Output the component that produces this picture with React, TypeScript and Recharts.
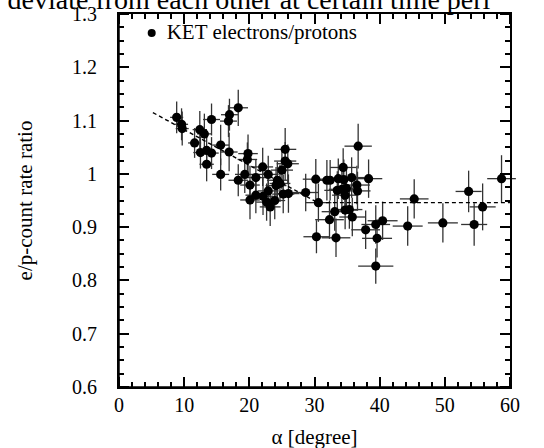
import React from 'react';
import { ScatterChart, Scatter, XAxis, YAxis, ErrorBar, Legend } from 'recharts';

const FONT = "'Liberation Serif', 'DejaVu Serif', serif";

const alpha = [
  8.85, 9.6, 9.7, 11.6, 12.4, 13.1, 12.5, 13.45, 14.2, 13.45,
  14.2, 15.6, 15.6, 16.9, 16.95, 16.8, 18.3, 18.3, 19.3, 19.8,
  19.7, 20.1, 20.1, 21.0, 21.0, 22.05, 22.1, 22.9, 22.9, 22.65,
  23.2, 23.9, 24.3, 24.7, 24.1, 25.0, 25.5, 25.5, 25.9, 25.2,
  26.0, 28.65, 30.6, 30.2, 31.9, 32.4, 33.65, 34.4, 34.5, 35.7,
  36.7, 38.3, 33.5, 34.2, 34.9, 36.5, 36.6, 34.7, 33.1, 32.3,
  34.7, 35.35, 35.8, 37.85, 39.4, 40.45, 39.6, 39.4, 30.3, 33.3,
  45.3, 44.3, 49.7, 53.65, 54.5, 55.8, 58.7,
];
const ratio = [
  1.106, 1.093, 1.085, 1.058, 1.083, 1.075, 1.040, 1.044, 1.039, 1.018,
  1.102, 1.054, 0.999, 1.041, 1.111, 1.099, 1.124, 0.988, 0.999, 1.038,
  1.027, 0.979, 0.951, 0.993, 0.960, 1.013, 0.958, 0.999, 0.968, 0.947,
  0.938, 0.950, 0.988, 0.982, 0.978, 1.007, 1.046, 1.024, 1.019, 0.962,
  0.963, 0.965, 0.946, 0.990, 0.988, 0.988, 0.991, 1.012, 0.989, 0.993,
  1.052, 0.991, 0.969, 0.971, 0.973, 0.979, 0.968, 0.960, 0.929, 0.914,
  0.932, 0.933, 0.919, 0.895, 0.905, 0.912, 0.879, 0.827, 0.882, 0.880,
  0.953, 0.902, 0.908, 0.967, 0.905, 0.938, 0.991,
];
const alphaErr = [
  1.0, 1.0, 1.0, 1.0, 1.1, 1.1, 1.1, 1.1, 1.1, 1.1,
  1.3, 1.3, 1.3, 1.3, 1.3, 1.3, 1.5, 1.5, 1.5, 1.5,
  1.5, 1.5, 1.5, 1.6, 1.6, 1.6, 1.6, 1.6, 1.6, 1.6,
  1.6, 1.6, 1.6, 1.6, 1.6, 1.7, 1.7, 1.7, 1.7, 1.7,
  1.7, 2.0, 2.0, 2.0, 2.0, 2.0, 2.0, 2.0, 2.0, 2.0,
  2.1, 2.1, 2.0, 2.0, 2.0, 2.0, 2.0, 2.0, 2.0, 2.2,
  2.0, 2.0, 2.0, 2.2, 2.2, 2.3, 2.3, 2.7, 2.0, 2.2,
  2.2, 2.3, 2.3, 2.0, 2.0, 2.0, 2.2,
];
const ratioErr = [
  0.030, 0.030, 0.032, 0.028, 0.035, 0.038, 0.030, 0.030, 0.030, 0.032,
  0.030, 0.038, 0.030, 0.036, 0.030, 0.030, 0.034, 0.030, 0.035, 0.036,
  0.032, 0.036, 0.036, 0.035, 0.034, 0.036, 0.035, 0.035, 0.035, 0.035,
  0.036, 0.035, 0.035, 0.035, 0.035, 0.036, 0.040, 0.036, 0.036, 0.036,
  0.036, 0.035, 0.036, 0.038, 0.038, 0.038, 0.038, 0.036, 0.038, 0.038,
  0.042, 0.036, 0.036, 0.036, 0.036, 0.036, 0.036, 0.036, 0.036, 0.036,
  0.036, 0.036, 0.036, 0.036, 0.036, 0.036, 0.036, 0.033, 0.031, 0.036,
  0.037, 0.037, 0.037, 0.039, 0.040, 0.044, 0.044,
];

const fitAlpha = [5.2, 30.5, 60];
const fitRatio = [1.115, 0.946, 0.946];

const X_MIN = 0;
const X_MAX = 60;
const Y_MIN = 0.6;
const Y_MAX = 1.3;

const xMajor = [0, 10, 20, 30, 40, 50, 60];
const xTicks = [0, 2, 4, 6, 8, 10, 12, 14, 16, 18, 20, 22, 24, 26, 28, 30, 32, 34, 36, 38, 40, 42, 44, 46, 48, 50, 52, 54, 56, 58, 60];
const yMajor = [0.6, 0.7, 0.8, 0.9, 1.0, 1.1, 1.2, 1.3];
const yMajorLabels = ['0.6', '0.7', '0.8', '0.9', '1', '1.1', '1.2', '1.3'];
const yTicks = [
  0.6, 0.625, 0.65, 0.675, 0.7, 0.725, 0.75, 0.775, 0.8, 0.825, 0.85, 0.875,
  0.9, 0.925, 0.95, 0.975, 1.0, 1.025, 1.05, 1.075, 1.1, 1.125, 1.15, 1.175,
  1.2, 1.225, 1.25, 1.275, 1.3,
];

const points = alpha.map((a, i) => ({ a, r: ratio[i], ea: alphaErr[i], er: ratioErr[i] }));
const fit = fitAlpha.map((a, i) => ({ a, r: fitRatio[i] }));

const W = 544;
const H = 448;
const MARGIN = { top: 14, right: 34, bottom: 0, left: 0 };
const Y_AXIS_W = 119;
const X_AXIS_H = 61;
const PLOT_L = MARGIN.left + Y_AXIS_W;
const PLOT_R = W - MARGIN.right;
const PLOT_T = MARGIN.top;
const PLOT_B = H - MARGIN.bottom - X_AXIS_H;

const MAJOR = 10;
const MINOR = 5;
const TICK_W = 2;
const FRAME_W = 2;

const isMajor = (list: number[], v: number) => list.some((m) => Math.abs(m - v) < 1e-6);
const axisX = (v: number) => PLOT_L + ((v - X_MIN) / (X_MAX - X_MIN)) * (PLOT_R - PLOT_L);
const axisY = (v: number) => PLOT_B - ((v - Y_MIN) / (Y_MAX - Y_MIN)) * (PLOT_B - PLOT_T);

const BottomLabel = (props: any) => {
  const { x, y, payload } = props;
  return (
    <text x={x} y={y} dy="0.71em" textAnchor="middle" fontSize={20} fontFamily={FONT} fill="#000">
      {String(payload.value)}
    </text>
  );
};

const LeftLabel = (props: any) => {
  const { x, y, payload } = props;
  const idx = yMajor.findIndex((m) => Math.abs(m - payload.value) < 1e-6);
  return (
    <text x={x} y={y} dy="0.35em" textAnchor="end" fontSize={20} fontFamily={FONT} fill="#000">
      {idx >= 0 ? yMajorLabels[idx] : String(payload.value)}
    </text>
  );
};

const Dot = (props: any) => <circle cx={props.cx} cy={props.cy} r={4.6} fill="#000" />;
const NoDot = () => <g />;

const LegendContent = () => (
  <svg width={260} height={30}>
    <circle cx={11.7} cy={13} r={4} fill="#000" />
    <text x={26.7} y={19} fontSize={21} fontFamily={FONT} fill="#000">KET electrons/protons</text>
  </svg>
);

// Tick marks as small HTML boxes (inward), plus a CSS-bordered frame
const TickBoxes = () => {
  const boxes: React.ReactNode[] = [];
  xTicks.forEach((v) => {
    const len = isMajor(xMajor, v) ? MAJOR : MINOR;
    const x = Math.round(axisX(v)) - TICK_W / 2;
    boxes.push(<div key={`b${v}`} style={{ position: 'absolute', left: x, top: PLOT_B - len, width: TICK_W, height: len, background: '#000' }} />);
    boxes.push(<div key={`t${v}`} style={{ position: 'absolute', left: x, top: PLOT_T, width: TICK_W, height: len, background: '#000' }} />);
  });
  yTicks.forEach((v) => {
    const len = isMajor(yMajor, v) ? MAJOR : MINOR;
    const y = Math.round(axisY(v)) - TICK_W / 2;
    boxes.push(<div key={`l${v}`} style={{ position: 'absolute', left: PLOT_L, top: y, width: len, height: TICK_W, background: '#000' }} />);
    boxes.push(<div key={`r${v}`} style={{ position: 'absolute', left: PLOT_R - len, top: y, width: len, height: TICK_W, background: '#000' }} />);
  });
  return (
    <div style={{ position: 'absolute', left: 0, top: 0, width: W, height: H, pointerEvents: 'none', zIndex: 5 }}>
      <div
        style={{
          position: 'absolute',
          left: PLOT_L - FRAME_W / 2,
          top: PLOT_T - FRAME_W / 2,
          width: PLOT_R - PLOT_L,
          height: PLOT_B - PLOT_T,
          border: `${FRAME_W}px solid #000`,
          boxSizing: 'content-box',
          marginLeft: -FRAME_W / 2,
          marginTop: -FRAME_W / 2,
        }}
      />
      {boxes}
    </div>
  );
};

export default function App() {
  return (
    <div style={{ position: 'absolute', left: 0, top: 0, width: W, height: H, background: '#fff' }}>
      <svg width={W} height={20} style={{ position: 'absolute', left: 0, top: 0 }}>
        <text x={7.6} y={8.5} fontSize={28} fontFamily={FONT} fill="#000">
          deviate from each other at certain time peri
        </text>
      </svg>
      <div style={{ position: 'absolute', left: 0, top: 0 }}>
        <ScatterChart width={W} height={H} margin={MARGIN}>
          <XAxis
            type="number"
            dataKey="a"
            domain={[X_MIN, X_MAX]}
            allowDataOverflow
            ticks={xMajor}
            interval={0}
            height={X_AXIS_H}
            tickLine={false}
            tickSize={0}
            tickMargin={11}
            axisLine={{ stroke: '#000', strokeWidth: 1.5 }}
            tick={<BottomLabel />}
            label={{ value: 'α [degree]', position: 'insideBottom', offset: 4, fontSize: 21, fontFamily: FONT, fill: '#000' }}
          />
          <YAxis
            type="number"
            dataKey="r"
            domain={[Y_MIN, Y_MAX]}
            allowDataOverflow
            ticks={yMajor}
            interval={0}
            width={Y_AXIS_W}
            tickLine={false}
            tickSize={0}
            tickMargin={22}
            axisLine={{ stroke: '#000', strokeWidth: 1.5 }}
            tick={<LeftLabel />}
            label={{ value: 'e/p-count rate ratio', angle: -90, position: 'center', dx: -34.5, fontSize: 21, fontFamily: FONT, fill: '#000' }}
          />
          <Legend
            layout="horizontal"
            verticalAlign="middle"
            align="center"
            wrapperStyle={{ left: 140, top: 20, width: 260, height: 30 }}
            content={<LegendContent />}
          />
          <Scatter
            name="fit"
            data={fit}
            isAnimationActive={false}
            line={{ stroke: '#000', strokeWidth: 1.4, strokeDasharray: '4 3' }}
            shape={<NoDot />}
            legendType="none"
          />
          <Scatter name="KET electrons/protons" data={points} isAnimationActive={false} shape={<Dot />}>
            <ErrorBar dataKey="ea" direction="x" width={0} stroke="#333" strokeWidth={1.3} isAnimationActive={false} />
            <ErrorBar dataKey="er" direction="y" width={0} stroke="#333" strokeWidth={1.3} isAnimationActive={false} />
          </Scatter>
        </ScatterChart>
      </div>
      <TickBoxes />
    </div>
  );
}
